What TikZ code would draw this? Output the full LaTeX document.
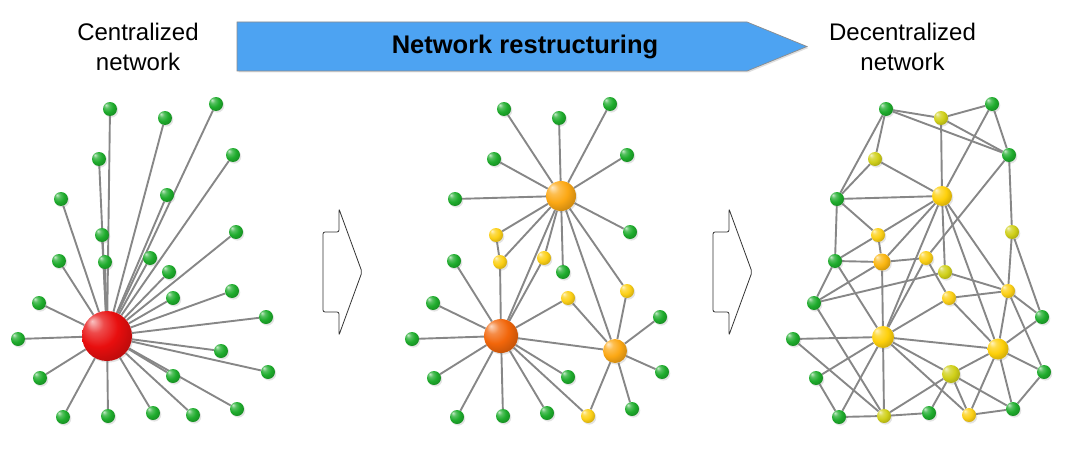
\documentclass[tikz,border=0pt]{standalone}
\usepackage{fontspec}
\setmainfont{Liberation Sans}
\usetikzlibrary{shadows,backgrounds}
\definecolor{grn}{RGB}{30,172,44}
\definecolor{hubred}{RGB}{232,14,14}
\definecolor{dorange}{RGB}{242,102,10}
\definecolor{orng}{RGB}{252,168,20}
\definecolor{ylw}{RGB}{252,208,22}
\definecolor{bylw}{RGB}{254,208,10}
\definecolor{oylw}{RGB}{250,182,15}
\definecolor{olv}{RGB}{208,208,25}
\definecolor{edgegray}{RGB}{135,135,135}
\definecolor{arrowblue}{RGB}{77,163,242}
\colorlet{mball}{grn}
\pgfdeclareradialshading[mball]{myball}{\pgfqpoint{-15bp}{15bp}}{%
  color(0bp)=(mball!25!white);
  color(9bp)=(mball!75!white);
  color(20bp)=(mball);
  color(34bp)=(mball!78!black);
  color(50bp)=(mball!52!black)}
\tikzset{
  mball color/.code={\colorlet{mball}{#1}},
  ball/.style={circle, inner sep=0pt, shading=myball,
    drop shadow={shadow xshift=1.3pt, shadow yshift=-1.6pt, opacity=0.22}},
  gn/.style={ball, minimum size=14pt, mball color=grn},
  yn/.style={ball, minimum size=14pt, mball color=ylw},
  on/.style={ball, minimum size=14pt, mball color=olv},
  ln/.style={draw=edgegray, line width=1.9pt},
  hollow/.style={draw=black!80, line width=0.8pt, fill=white, rounded corners=2pt},
  ttl/.style={font=\fontsize{24}{30}\selectfont, align=center, anchor=north, inner sep=0pt}
}
\begin{document}
\begin{tikzpicture}[x=1pt,y=-1pt]
\useasboundingbox (0,0) rectangle (1084,452);

% titles
\node[ttl] (tcen) at (138,23) {Centralized\\network};
\node[ttl] (tdec) at (902.5,23) {Decentralized\\network};
\fill[arrowblue, draw=black!45, line width=0.7pt,
  drop shadow={shadow xshift=1.5pt, shadow yshift=-1.5pt, opacity=0.25}]
  (237,22) -- (747,22) -- (807,46.5) -- (747,71) -- (237,71) -- cycle;
\node[font=\fontsize{25.5}{30}\selectfont\bfseries] (tres) at (525,46.5) {Network restructuring};

% hollow arrows
\draw[hollow] (339,209) -- (362,272) -- (339,335) -- (339,312) -- (323,312) -- (323,232) -- (339,232) -- cycle;
\draw[hollow] (729,209) -- (752,272) -- (729,335) -- (729,312) -- (713,312) -- (713,232) -- (729,232) -- cycle;

% ---------- panel 1 ----------
\node[ball, minimum size=50pt, mball color=hubred] (hub) at (107,336) {};
\foreach \n/\x/\y in {1/110/109, 2/165/118, 3/216/104, 4/99/159, 5/233/155,
  6/61/199, 7/167/195, 8/236/232, 9/102/235, 10/59/261, 11/105/262,
  12/150/258, 13/169/272, 14/173/298, 15/232/291, 16/39/303, 17/266/317,
  18/18/339, 19/221/351, 20/268/372, 21/40/378, 22/173/376, 23/237/409,
  24/63/417, 25/108/416, 26/153/413, 27/193/415}
  \node[gn] (a\n) at (\x,\y) {};

% ---------- panel 2 ----------
\node[ball, minimum size=30pt, mball color=orng] (qh1) at (561,196) {};
\node[ball, minimum size=34pt, mball color=dorange] (qh2) at (501,336) {};
\node[ball, minimum size=24pt, mball color=orng] (qh3) at (615,351) {};
\foreach \n/\x/\y in {1/496/235, 2/500/262, 3/544/258, 4/568/298, 5/627/291, 6/588/416}
  \node[yn] (qy\n) at (\x,\y) {};
\foreach \n/\x/\y in {1/504/109, 2/559/118, 3/610/104, 4/494/159, 5/627/155,
  6/455/199, 7/630/232, 8/454/261, 9/563/272, 10/433/303, 11/660/317,
  12/412/339, 13/568/377, 14/662/372, 15/434/378, 16/632/409, 17/457/417,
  18/503/416, 19/547/413}
  \node[gn] (qg\n) at (\x,\y) {};

% ---------- panel 3 ----------
\node[ball, minimum size=20pt, mball color=bylw] (rb1) at (942,196) {};
\node[ball, minimum size=22pt, mball color=bylw] (rb2) at (883,337) {};
\node[ball, minimum size=21pt, mball color=bylw] (rb3) at (998,349) {};
\node[ball, minimum size=17pt, mball color=oylw] (rb4) at (882,262) {};
\node[ball, minimum size=18pt, mball color=olv] (ro5) at (951,374) {};
\foreach \n/\x/\y in {1/941/118, 2/875/159, 3/1012/232, 4/945/272, 6/884/416}
  \node[on] (ro\n) at (\x,\y) {};
\foreach \n/\x/\y in {1/878/235, 2/926/258, 3/949/298, 4/1008/291, 5/969/415}
  \node[yn] (ry\n) at (\x,\y) {};
\foreach \n/\x/\y in {1/886/109, 2/992/104, 3/1009/155, 4/837/199, 5/835/261,
  6/814/303, 7/1042/317, 8/793/339, 9/816/378, 10/1044/372, 11/839/417,
  12/929/413, 13/1013/409}
  \node[gn] (rg\n) at (\x,\y) {};

% ---------- edges ----------
\begin{pgfonlayer}{background}
\foreach \n in {1,...,27} \draw[ln] (hub) -- (a\n);

\foreach \t in {qg1,qg2,qg3,qg4,qg5,qg6,qg7,qg9,qy1,qy2,qy3,qh2,qy5,qh3}
  \draw[ln] (qh1) -- (\t);
\foreach \t in {qg8,qg10,qg12,qg15,qg17,qg18,qg19,qg13,qy6,qy4,qh3,qy2,qy3}
  \draw[ln] (qh2) -- (\t);
\foreach \t in {qy4,qy5,qg11,qg14,qg16,qy6}
  \draw[ln] (qh3) -- (\t);
\draw[ln] (qy1) -- (qy2);

\foreach \a/\b in {rg1/ro1, rg1/rg3, ro1/rg2, ro1/rg3, rg2/rg3, rg2/rb1, ro1/rb1,
  rg1/ro2, rg1/rg4, ro2/rg4, ro2/rb1, rg4/rb1, rg4/ry1, rg4/rg5,
  rg3/ro3, rg3/ry2, rb1/ry1, rb1/rb4, rb1/rb2, rb1/ro4, rb1/ry4, rb1/rb3,
  ry1/rg5, ry1/rb4, rg5/rb4, rg5/rg6, rg5/rb2, rb4/rg6, rb4/ry2, rb4/rb2,
  rg6/ro4, ro4/ry4, ry2/ry3, ry2/rb2, rg6/ro6, rg8/ro6, rg8/rb2, rg9/rb2,
  rg9/rg11, rg11/rb2, rg11/ro6, rb2/ro6, rb2/ry3, rb2/rb3, rb2/ro5, rb2/ry5,
  ro6/ro5, ro6/rg12, rg12/ro5, ro5/ry5, ro5/rb3, ro5/rg13, ry5/rb3, ry5/rg13,
  ry3/ry4, ry3/rb3, ry4/rb3, ry4/rg7, ry4/rg10, rb3/rg7, rb3/rg10, rb3/rg13,
  rg13/rg10, ro3/rg7, ro3/ry4}
  \draw[ln] (\a) -- (\b);
\end{pgfonlayer}
\end{tikzpicture}
\end{document}
